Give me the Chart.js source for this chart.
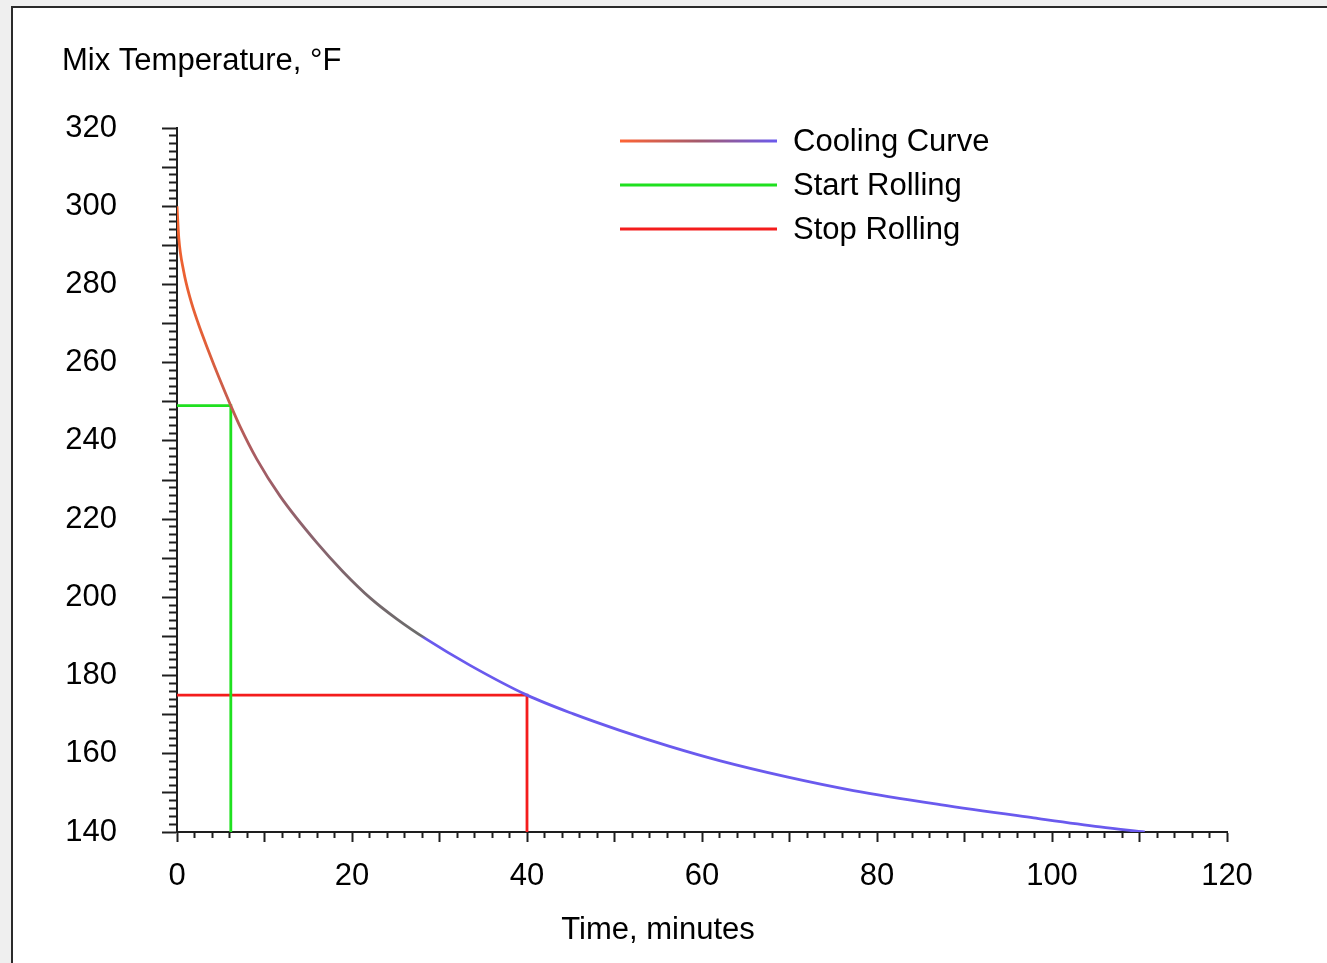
<!DOCTYPE html>
<html>
<head>
<meta charset="utf-8">
<title>Mix Temperature Cooling Curve</title>
<script src="https://cdn.jsdelivr.net/npm/chart.js@4"></script>
<style>
  html, body { margin: 0; padding: 0; width: 1327px; height: 963px; overflow: hidden; background: #efefef; }
  #panel { position: absolute; left: 11px; top: 6px; right: 0; bottom: 0; background: #fff;
           border-left: 2px solid #2a2a2a; border-top: 2px solid #2a2a2a; }
  #wrap { position: absolute; left: 0; top: 0; width: 1327px; height: 963px; }
</style>
</head>
<body>
<div id="panel"></div>
<div id="wrap"><canvas id="chart"></canvas></div>
<script>
// Cooling curve: elapsed time (minutes) and mix temperature (°F)
const timeMinutes = [0, 0.2, 0.75, 1.5, 2.4, 3.6, 4.8, 6.15, 7.2, 9.1, 11.8, 16, 19, 22.1, 25.1, 28.5, 33.5, 40,
                     45.3, 50.6, 56.3, 62.1, 69.7, 77.3, 87.2, 97.9, 105.5, 110.6];
const mixTempF    = [300, 292, 283.5, 276.5, 270.2, 263, 256.2, 249, 243.7, 235.4, 225.8, 213.9, 206.5, 199.8, 194.5, 189.3, 182.6, 175,
                     170.2, 166, 161.9, 158.2, 154.1, 150.6, 147, 143.6, 141.3, 140];

// Rolling window markers
const startRolling = { time: 6.15, temp: 249 };
const stopRolling  = { time: 40,   temp: 175 };

// Axis ranges and labelled ticks
const timeRange = [0, 120];
const tempRange = [140, 320];
const timeTickLabels = [0, 20, 40, 60, 80, 100, 120];
const tempTickLabels = [140, 160, 180, 200, 220, 240, 260, 280, 300, 320];

const seriesNames = ['Cooling Curve', 'Start Rolling', 'Stop Rolling'];

const FONT = '"Liberation Sans", Arial, Helvetica, sans-serif';
const FONT_SIZE = 31;
const AXIS = '#1e1e1e';
const GREEN = '#1fe01f';
const RED = '#f41c1c';
const BLUE = '#6a5aee';

// Hot-to-cool colouring of the curve, keyed by temperature
const curveStops = [
  [300, '#f4622c'], [265, '#e25f38'], [250, '#c65c4e'], [235, '#a65c64'],
  [215, '#8a646e'], [200, '#76686c'], [190.2, '#6c6c6c'], [189.4, BLUE], [140, BLUE]
];

function curveGradient(ctx) {
  const chart = ctx.chart;
  if (!chart.chartArea) return BLUE;
  const y = chart.scales.y;
  const top = y.getPixelForValue(curveStops[0][0]);
  const bottom = y.getPixelForValue(curveStops[curveStops.length - 1][0]);
  const g = chart.ctx.createLinearGradient(0, top, 0, bottom);
  curveStops.forEach(([v, c]) => {
    const f = (y.getPixelForValue(v) - top) / (bottom - top);
    g.addColorStop(Math.min(1, Math.max(0, f)), c);
  });
  return g;
}

// Legend drawn inside the plot area, line samples followed by labels
const insetLegend = {
  id: 'insetLegend',
  afterDatasetsDraw(chart) {
    const { ctx, chartArea } = chart;
    const x0 = chartArea.left + 443, x1 = x0 + 157, tx = x1 + 16;
    ctx.save();
    ctx.font = FONT_SIZE + 'px ' + FONT;
    ctx.textBaseline = 'middle';
    ctx.textAlign = 'left';
    chart.data.datasets.forEach((ds, i) => {
      const y = chartArea.top + 13 + i * 44;
      let stroke = ds.legendStroke;
      if (i === 0) {
        stroke = ctx.createLinearGradient(x0, 0, x1, 0);
        stroke.addColorStop(0, '#ff6434');
        stroke.addColorStop(0.5, '#a45a6c');
        stroke.addColorStop(1, BLUE);
      }
      ctx.strokeStyle = stroke;
      ctx.lineWidth = 3;
      ctx.lineCap = 'butt';
      ctx.beginPath();
      ctx.moveTo(x0, y);
      ctx.lineTo(x1, y);
      ctx.stroke();
      ctx.fillStyle = '#000';
      ctx.fillText(ds.label, tx, y + 1);
    });
    ctx.restore();
  }
};

Chart.defaults.font.family = FONT;
Chart.defaults.font.size = FONT_SIZE;
Chart.defaults.color = '#000';

new Chart(document.getElementById('chart'), {
  type: 'scatter',
  data: {
    datasets: [
      {
        label: seriesNames[0],
        data: timeMinutes.map((t, i) => ({ x: t, y: mixTempF[i] })),
        showLine: true,
        borderColor: curveGradient,
        borderWidth: 2.8,
        pointRadius: 0,
        cubicInterpolationMode: 'monotone',
        yAxisID: 'y',
        order: 0
      },
      {
        label: seriesNames[1],
        data: [
          { x: timeRange[0], y: startRolling.temp },
          { x: startRolling.time, y: startRolling.temp },
          { x: startRolling.time, y: tempRange[0] }
        ],
        showLine: true,
        borderColor: GREEN,
        legendStroke: GREEN,
        borderWidth: 2.8,
        pointRadius: 0,
        tension: 0,
        yAxisID: 'y',
        order: 1
      },
      {
        label: seriesNames[2],
        data: [
          { x: timeRange[0], y: stopRolling.temp },
          { x: stopRolling.time, y: stopRolling.temp },
          { x: stopRolling.time, y: tempRange[0] }
        ],
        showLine: true,
        borderColor: RED,
        legendStroke: RED,
        borderWidth: 2.8,
        pointRadius: 0,
        tension: 0,
        yAxisID: 'y',
        order: 2
      }
    ]
  },
  options: {
    responsive: true,
    maintainAspectRatio: false,
    animation: false,
    events: [],
    layout: { padding: { left: 62, right: 73, top: 0, bottom: 0 } },
    plugins: {
      legend: { display: false },
      tooltip: { enabled: false },
      title: {
        display: true,
        text: 'Mix Temperature, °F',
        align: 'start',
        color: '#000',
        font: { size: FONT_SIZE, weight: 'normal' },
        padding: { top: 43, bottom: 47.8 }
      },
      subtitle: {
        display: true,
        position: 'bottom',
        text: 'Time, minutes',
        align: 'center',
        color: '#000',
        font: { size: FONT_SIZE, weight: 'normal' },
        padding: { top: 18, bottom: 13.8 }
      }
    },
    scales: {
      x: {
        type: 'linear',
        position: 'bottom',
        min: timeRange[0],
        max: timeRange[1],
        border: { display: true, color: AXIS, width: 2 },
        grid: {
          display: true,
          drawOnChartArea: false,
          drawTicks: true,
          tickLength: 10,
          tickWidth: 2,
          tickColor: AXIS,
          tickBorderDash: (c) => (c.tick && c.tick.value % 10 === 0) ? [] : [5, 60]
        },
        ticks: {
          stepSize: 2,
          maxTicksLimit: 200,
          autoSkip: false,
          minRotation: 0,
          maxRotation: 0,
          padding: 16,
          callback: (v) => timeTickLabels.includes(v) ? String(v) : ''
        },
        afterFit: (s) => { s.height = 62; }
      },
      y: {
        type: 'linear',
        position: 'left',
        min: tempRange[0],
        max: tempRange[1],
        border: { display: true, color: AXIS, width: 2 },
        grid: {
          display: true,
          drawOnChartArea: false,
          drawTicks: true,
          tickLength: 15,
          tickWidth: 2,
          tickColor: AXIS,
          tickBorderDash: (c) => (c.tick && c.tick.value % 10 === 0) ? [] : [0, 7, 8, 60]
        },
        ticks: {
          stepSize: 2,
          maxTicksLimit: 200,
          autoSkip: false,
          padding: 45,
          callback: (v) => tempTickLabels.includes(v) ? String(v) : ''
        },
        afterFit: (s) => { s.width = 115; }
      },
      // spacer on the right so the plot ends short of the canvas edge
      spacer: {
        type: 'linear',
        position: 'right',
        display: true,
        border: { display: false },
        grid: { display: false, drawTicks: false },
        ticks: { display: false },
        afterFit: (s) => { s.width = 27; }
      }
    }
  },
  plugins: [insetLegend]
});
</script>
</body>
</html>
